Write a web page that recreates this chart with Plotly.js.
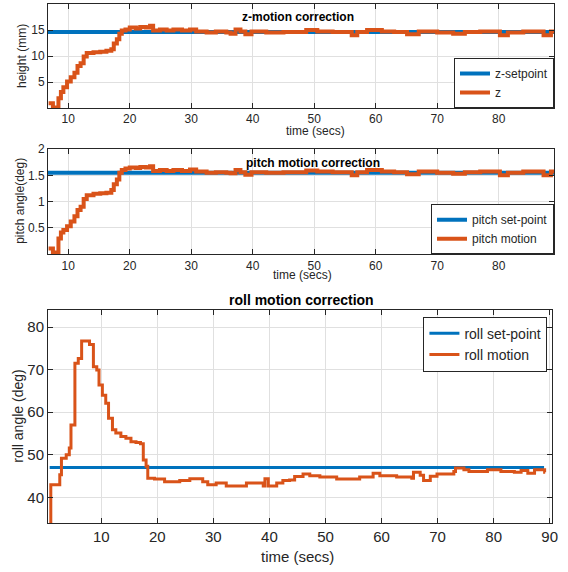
<!DOCTYPE html>
<html>
<head>
<meta charset="utf-8">
<script src="https://cdn.plot.ly/plotly-3.0.1.min.js"></script>
<style>html,body{margin:0;padding:0;background:#fff}#chart{width:568px;height:572px}</style>
</head>
<body>
<div id="chart"></div>
<script>
// ---- data ----
const zTime = [6.8, 7.5, 8.4, 8.8, 9.2, 9.8, 10.4, 11.0, 11.5, 12.0, 12.5, 13.0, 14.1, 15.2, 16.2, 17.0, 17.4, 17.9, 18.3, 18.7, 19.3, 20.0, 21.0, 21.7, 22.6, 23.3, 23.8, 24.9, 26.0, 27.1, 28.5, 29.8, 30.8, 32.5, 34.0, 35.7, 36.4, 37.2, 38.0, 38.8, 39.8, 42.2, 45.0, 48.7, 50.5, 53.0, 56.1, 57.0, 58.6, 61.0, 63.0, 65.1, 67.0, 70.0, 72.6, 74.5, 77.0, 80.2, 81.5, 84.0, 87.3, 88.5, 89.0];
const zValue = [0.9, 0.1, 1.9, 3.1, 4.0, 5.1, 5.9, 6.8, 8.1, 8.6, 9.9, 10.6, 10.7, 10.8, 11.0, 11.3, 12.4, 13.2, 14.3, 14.9, 15.1, 15.5, 15.3, 15.6, 15.5, 15.8, 14.9, 15.1, 14.9, 15.1, 14.9, 15.1, 14.7, 14.5, 14.7, 14.5, 14.3, 15.1, 14.7, 14.2, 14.7, 14.5, 14.6, 15.0, 14.7, 14.6, 14.0, 14.6, 15.0, 14.7, 14.6, 14.2, 14.7, 14.5, 14.3, 14.6, 14.7, 14.0, 14.5, 14.7, 14.0, 14.7, 14.7];
const zSetTime = [6.7, 89.0];
const zSetValue = [14.6, 14.6];

const pitchTime = [6.8, 7.5, 8.4, 8.8, 9.2, 9.8, 10.4, 11.0, 11.5, 12.0, 12.5, 13.0, 14.1, 15.2, 16.2, 17.0, 17.4, 17.9, 18.3, 18.7, 19.3, 20.0, 21.0, 21.7, 22.6, 23.3, 23.8, 24.9, 26.0, 27.1, 28.5, 29.8, 30.8, 32.5, 34.0, 35.7, 36.4, 37.2, 38.0, 38.8, 39.8, 42.2, 45.0, 48.7, 50.5, 53.0, 56.1, 57.0, 58.6, 61.0, 63.0, 65.1, 67.0, 70.0, 72.6, 74.5, 77.0, 80.2, 81.5, 84.0, 87.3, 88.5, 89.0];
const pitchValue = [0.11, 0.03, 0.30, 0.41, 0.46, 0.53, 0.62, 0.72, 0.84, 0.90, 1.05, 1.12, 1.15, 1.16, 1.17, 1.22, 1.33, 1.42, 1.55, 1.60, 1.63, 1.65, 1.64, 1.66, 1.65, 1.67, 1.58, 1.60, 1.58, 1.60, 1.58, 1.61, 1.57, 1.55, 1.56, 1.55, 1.54, 1.60, 1.56, 1.51, 1.56, 1.55, 1.56, 1.59, 1.57, 1.56, 1.50, 1.56, 1.60, 1.57, 1.56, 1.52, 1.57, 1.55, 1.53, 1.56, 1.57, 1.50, 1.55, 1.57, 1.50, 1.57, 1.57];
const pitchSetTime = [6.7, 89.0];
const pitchSetValue = [1.55, 1.55];

const rollTime = [0.8, 1.0, 2.6, 2.9, 3.75, 4.3, 4.6, 5.3, 5.9, 6.5, 7.9, 8.6, 9.2, 9.6, 10.2, 10.8, 11.3, 12.0, 12.6, 13.5, 14.4, 15.3, 16.2, 17.0, 17.5, 18.0, 18.3, 19.5, 21.3, 24.0, 25.8, 28.1, 29.0, 30.5, 32.3, 35.9, 38.9, 39.2, 39.8, 41.3, 42.4, 43.6, 44.5, 46.0, 47.2, 49.0, 52.0, 56.1, 58.5, 59.7, 62.7, 65.4, 65.7, 66.9, 67.5, 68.7, 69.9, 72.9, 73.2, 74.7, 75.6, 78.9, 81.3, 83.7, 84.9, 86.1, 87.3, 89.1, 89.2];
const rollValue = [33.0, 43.0, 45.3, 49.2, 50.0, 51.6, 57.0, 71.5, 72.6, 76.7, 75.9, 70.7, 69.9, 66.4, 64.0, 62.1, 58.6, 55.9, 55.1, 54.3, 53.9, 53.1, 52.9, 52.6, 48.8, 47.3, 44.5, 44.3, 43.7, 44.0, 44.4, 43.7, 43.0, 43.4, 42.7, 43.4, 42.7, 44.4, 42.7, 43.4, 44.0, 44.1, 44.9, 45.5, 45.1, 44.8, 44.3, 44.8, 45.7, 45.1, 44.8, 44.5, 45.9, 45.2, 44.0, 45.0, 45.5, 46.1, 46.9, 46.5, 46.1, 46.5, 46.1, 45.9, 46.3, 45.7, 46.5, 45.9, 45.9];
const rollSetTime = [0.8, 89.0];
const rollSetValue = [47.0, 47.0];

const topXTicks = [10, 20, 30, 40, 50, 60, 70, 80];
const topYTicks = [5, 10, 15, 20];
const midYTicks = [0.5, 1, 1.5, 2];
const botXTicks = [10, 20, 30, 40, 50, 60, 70, 80, 90];
const botYTicks = [40, 50, 60, 70, 80];

// ---- styling ----
const BLUE = '#0072BD', ORANGE = '#D95319', INK = '#262626', GRID = '#e0e0e0';
const FONT = 'Liberation Sans, Arial, Helvetica, sans-serif';

function axis(extra, size) {
  return Object.assign({
    showline: true, mirror: 'ticks', linecolor: INK, linewidth: 1,
    ticks: 'inside', ticklen: 5, tickcolor: INK, tickwidth: 1,
    showgrid: true, gridcolor: GRID, gridwidth: 1, zeroline: false,
    tickfont: {family: FONT, size: size, color: INK},
    tickmode: 'array', automargin: false
  }, extra);
}

const traces = [
  {x: zSetTime, y: zSetValue, name: 'z-setpoint', mode: 'lines', line: {color: BLUE, width: 4}, xaxis: 'x', yaxis: 'y', legend: 'legend'},
  {x: zTime, y: zValue, name: 'z', mode: 'lines', line: {color: ORANGE, width: 4, shape: 'hv'}, xaxis: 'x', yaxis: 'y', legend: 'legend'},
  {x: pitchSetTime, y: pitchSetValue, name: 'pitch set-point', mode: 'lines', line: {color: BLUE, width: 4}, xaxis: 'x2', yaxis: 'y2', legend: 'legend2'},
  {x: pitchTime, y: pitchValue, name: 'pitch motion', mode: 'lines', line: {color: ORANGE, width: 4, shape: 'hv'}, xaxis: 'x2', yaxis: 'y2', legend: 'legend2'},
  {x: rollSetTime, y: rollSetValue, name: 'roll set-point', mode: 'lines', line: {color: BLUE, width: 3}, xaxis: 'x3', yaxis: 'y3', legend: 'legend3'},
  {x: rollTime, y: rollValue, name: 'roll motion', mode: 'lines', line: {color: ORANGE, width: 3, shape: 'hv'}, xaxis: 'x3', yaxis: 'y3', legend: 'legend3'}
];

function legend(x, y, xa, ya, size) {
  return {x: x, y: y, xanchor: xa, yanchor: ya, xref: 'paper', yref: 'paper',
    bgcolor: '#ffffff', bordercolor: INK, borderwidth: 1,
    font: {family: FONT, size: size, color: INK}, itemwidth: 30,
    tracegroupgap: 0};
}

function ann(text, x, y, size, angle) {
  return {text: text, x: x, y: y, xref: 'paper', yref: 'paper', showarrow: false,
    xanchor: 'center', yanchor: 'middle', textangle: angle || 0,
    font: {family: FONT, size: size, color: angle === undefined && text.indexOf('<b>') === 0 ? '#000' : INK}};
}

const layout = {
  width: 568, height: 572,
  margin: {l: 48, r: 14, t: 4, b: 49},
  paper_bgcolor: '#ffffff', plot_bgcolor: '#ffffff',
  showlegend: true,
  xaxis: axis({domain: [0, 1], range: [6.7, 89], tickvals: topXTicks, anchor: 'y'}, 12),
  yaxis: axis({domain: [0.7996, 1], range: [0, 20], tickvals: topYTicks, anchor: 'x'}, 12),
  xaxis2: axis({domain: [0, 1], range: [6.7, 89], tickvals: topXTicks, anchor: 'y2'}, 12),
  yaxis2: axis({domain: [0.518, 0.7206], range: [0, 2], tickvals: midYTicks, anchor: 'x2'}, 12),
  xaxis3: axis({domain: [0, 0.997], range: [0.5, 90.5], tickvals: botXTicks, anchor: 'y3'}, 15),
  yaxis3: axis({domain: [0, 0.4104], range: [34, 84], tickvals: botYTicks, anchor: 'x3'}, 15),
  legend: legend(1, 0.7996, 'right', 'bottom', 12),
  legend2: legend(1, 0.518, 'right', 'bottom', 12),
  legend3: legend(0.987, 0.3975, 'right', 'top', 14),
  annotations: [
    ann('<b>z-motion correction</b>', 0.494, 0.975, 12),
    ann('<b>pitch motion correction</b>', 0.524, 0.694, 12),
    ann('<b>roll motion correction</b>', 0.5, 0.4297, 14),
    ann('time (secs)', 0.528, 0.755, 12),
    ann('time (secs)', 0.502, 0.478, 12),
    ann('time (secs)', 0.494, -0.065, 15),
    ann('height (mm)', -0.0514, 0.9, 12, -90),
    ann('pitch angle(deg)', -0.055, 0.621, 12, -90),
    ann('roll angle (deg)', -0.06, 0.206, 14, -90)
  ]
};

Plotly.newPlot('chart', traces, layout, {displayModeBar: false, staticPlot: true});
</script>
</body>
</html>
